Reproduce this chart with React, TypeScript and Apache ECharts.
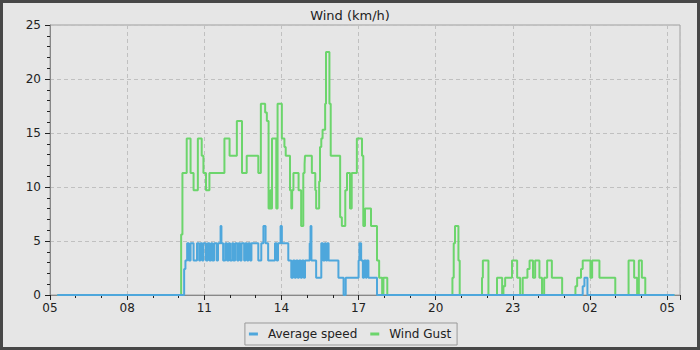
import React, { useEffect, useRef } from "react";
import * as echarts from "echarts";

const chartTitle = "Wind (km/h)";
const seriesNames = ["Average speed", "Wind Gust"];
const seriesColors = ["#4ea7dc", "#6cd56c"];
const xTickLabels = ["05", "08", "11", "14", "17", "20", "23", "02", "05"];
const yMax = 25;
const yStep = 5;

// [time HH:MM, km/h] change points; each value holds until the next time
const averageSpeed: [string, number][] = [
  ["05:17", 0], ["10:13", 2.4], ["10:16", 3.2], ["10:20", 4.8], ["10:24", 3.2], ["10:28", 4.8],
  ["10:35", 3.2], ["10:43", 4.8], ["10:48", 3.2], ["10:51", 4.8], ["10:55", 3.2], ["10:58", 4.8],
  ["11:04", 3.2], ["11:08", 4.8], ["11:12", 3.2], ["11:16", 4.8], ["11:19", 3.2], ["11:23", 4.8],
  ["11:29", 3.2], ["11:32", 4.8], ["11:38", 6.4], ["11:40", 4.8], ["11:44", 3.2], ["11:49", 4.8],
  ["11:53", 3.2], ["11:57", 4.8], ["12:00", 3.2], ["12:05", 4.8], ["12:08", 3.2], ["12:12", 4.8],
  ["12:17", 3.2], ["12:20", 4.8], ["12:24", 3.2], ["12:27", 4.8], ["12:33", 3.2], ["12:36", 4.8],
  ["12:40", 3.2], ["12:43", 4.8], ["12:47", 3.2], ["12:50", 4.8], ["13:06", 3.2], ["13:13", 4.8],
  ["13:18", 6.4], ["13:23", 4.8], ["13:29", 3.2], ["13:45", 4.8], ["13:49", 3.2], ["13:52", 4.8],
  ["13:58", 6.4], ["14:01", 4.8], ["14:16", 3.2], ["14:23", 1.6], ["14:27", 3.2], ["14:31", 1.6],
  ["14:34", 3.2], ["14:38", 1.6], ["14:41", 3.2], ["14:45", 1.6], ["14:48", 3.2], ["14:52", 1.6],
  ["14:55", 3.2], ["15:06", 4.8], ["15:08", 6.4], ["15:10", 3.2], ["15:21", 1.6], ["15:33", 4.8],
  ["15:37", 3.2], ["15:41", 4.8], ["15:44", 3.2], ["15:47", 4.8], ["15:50", 3.2], ["16:13", 1.6],
  ["16:25", 0], ["16:30", 1.6], ["17:00", 3.2], ["17:02", 4.8], ["17:06", 3.2], ["17:10", 1.6],
  ["17:13", 3.2], ["17:17", 1.6], ["17:19", 3.2], ["17:23", 1.6], ["17:43", 0], ["01:43", 0.8],
  ["01:47", 1.6], ["01:54", 0], ["05:17", 0],
];

const windGust: [string, number][] = [
  ["05:17", 0], ["10:06", 5.6], ["10:09", 11.3], ["10:19", 14.5], ["10:28", 11.3], ["10:35", 9.7],
  ["10:45", 14.5], ["10:54", 12.9], ["10:58", 11.3], ["11:04", 9.7], ["11:12", 11.3], ["11:47", 14.5],
  ["11:59", 12.9], ["12:16", 16.1], ["12:28", 11.3], ["12:39", 12.9], ["13:06", 11.3], ["13:12", 17.7],
  ["13:22", 16.9], ["13:26", 16.1], ["13:30", 8.0], ["13:34", 9.7], ["13:36", 8.0], ["13:38", 14.5],
  ["13:48", 8.0], ["13:51", 17.7], ["14:01", 14.5], ["14:07", 13.7], ["14:10", 12.9], ["14:20", 9.7],
  ["14:23", 8.0], ["14:25", 9.7], ["14:28", 11.3], ["14:40", 9.7], ["14:46", 6.4], ["14:51", 11.3],
  ["14:54", 12.1], ["14:55", 12.9], ["15:11", 11.3], ["15:19", 9.7], ["15:21", 8.0], ["15:28", 10.5],
  ["15:30", 13.7], ["15:33", 14.5], ["15:36", 15.3], ["15:42", 17.7], ["15:44", 22.5], ["15:52", 17.7],
  ["15:55", 12.9], ["16:17", 7.2], ["16:21", 6.4], ["16:29", 9.7], ["16:33", 11.3], ["16:40", 8.0],
  ["16:44", 11.3], ["16:56", 14.5], ["17:08", 12.9], ["17:11", 6.4], ["17:15", 8.0], ["17:29", 6.4],
  ["17:43", 3.2], ["17:48", 1.6], ["17:55", 0], ["17:58", 1.6], ["18:07", 0], ["20:39", 1.6],
  ["20:42", 4.8], ["20:45", 6.4], ["20:53", 3.2], ["20:56", 0], ["21:48", 1.6], ["21:50", 3.2],
  ["22:03", 0], ["22:23", 1.6], ["22:35", 0], ["22:38", 0.8], ["22:42", 1.6], ["22:58", 3.2],
  ["23:10", 1.6], ["23:17", 0], ["23:23", 1.6], ["23:34", 2.4], ["23:39", 3.2], ["23:47", 1.6],
  ["23:52", 3.2], ["00:02", 1.6], ["00:08", 0], ["00:13", 1.6], ["00:20", 3.2], ["00:31", 1.6],
  ["00:55", 0], ["01:26", 0.8], ["01:30", 1.6], ["01:39", 2.4], ["01:43", 3.2], ["02:01", 1.6],
  ["02:05", 3.2], ["02:22", 1.6], ["02:59", 0], ["03:30", 3.2], ["03:43", 1.6], ["03:50", 0],
  ["03:54", 3.2], ["04:01", 1.6], ["04:09", 0], ["05:17", 0],
];

const START_HOUR = 5;
const X_SPAN = 24.5;

function toAxis(points: [string, number][]): [number, number][] {
  let prev = -Infinity;
  return points.map(([t, v]) => {
    const [h, m] = t.split(":").map(Number);
    let x = h + m / 60 - START_HOUR;
    if (x < 0) x += 24;
    while (x < prev) x += 24;
    prev = x;
    return [x, v];
  });
}

const FONT = "DejaVu Sans";

export default function App() {
  const ref = useRef<HTMLDivElement>(null);
  useEffect(() => {
    document.body.style.margin = "0";
    if (!ref.current) return;
    const chart = echarts.init(ref.current, undefined, { renderer: "svg" });
    chart.setOption({
      animation: false,
      backgroundColor: "#e6e6e6",
      textStyle: { fontFamily: FONT },
      title: {
        text: chartTitle,
        left: "center",
        top: 4,
        textStyle: { fontSize: 13, fontWeight: "normal", color: "#222", fontFamily: FONT },
      },
      legend: {
        data: seriesNames,
        left: "center",
        top: 323,
        padding: [5, 6, 5, 4],
        itemGap: 13,
        itemWidth: 9,
        itemHeight: 3,
        icon: "rect",
        borderColor: "#999",
        borderWidth: 1,
        textStyle: { fontSize: 12, color: "#222", fontFamily: FONT, padding: [0, 0, 0, 5] },
      },
      grid: {
        left: 50,
        right: 20,
        top: 25,
        bottom: 55,
        show: true,
        borderColor: "#a0a0a0",
        borderWidth: 1,
        backgroundColor: "transparent",
      },
      xAxis: {
        type: "value",
        min: 0,
        max: X_SPAN,
        interval: 3,
        axisLine: { show: true, lineStyle: { color: "#888" } },
        axisTick: { show: true, length: 5, lineStyle: { color: "#222" } },
        minorTick: { show: true, splitNumber: 3, length: 3, lineStyle: { color: "#222" } },
        axisLabel: {
          margin: 7,
          fontSize: 12,
          color: "#222",
          fontFamily: FONT,
          showMaxLabel: false,
          formatter: (v: number) => {
            const i = Math.round(v / 3);
            return Math.abs(v - i * 3) < 1e-6 ? xTickLabels[i] ?? "" : "";
          },
        },
        splitLine: { show: true, lineStyle: { color: "#c0c0c0", type: [4, 3] } },
      },
      yAxis: {
        type: "value",
        min: 0,
        max: yMax,
        interval: yStep,
        axisLine: { show: true, lineStyle: { color: "#888" } },
        axisTick: { show: true, length: 5, lineStyle: { color: "#222" } },
        minorTick: { show: true, splitNumber: 5, length: 3, lineStyle: { color: "#222" } },
        axisLabel: { margin: 9, fontSize: 12, color: "#222", fontFamily: FONT },
        splitLine: { show: true, lineStyle: { color: "#c0c0c0", type: [4, 3] } },
      },
      series: [
        {
          name: seriesNames[0],
          type: "line",
          step: "end",
          symbol: "none",
          z: 4,
          color: seriesColors[0],
          lineStyle: { width: 2, color: seriesColors[0] },
          data: toAxis(averageSpeed),
        },
        {
          name: seriesNames[1],
          type: "line",
          step: "end",
          symbol: "none",
          z: 3,
          color: seriesColors[1],
          lineStyle: { width: 2, color: seriesColors[1] },
          data: toAxis(windGust),
        },
      ],
      graphic: [
        {
          type: "rect",
          silent: true,
          z: 100,
          shape: { x: 0, y: 0, width: 700, height: 350 },
          style: { fill: "none", stroke: "#474747", lineWidth: 6 },
        },
      ],
    });
    return () => chart.dispose();
  }, []);
  return <div ref={ref} style={{ width: 700, height: 350 }} />;
}
